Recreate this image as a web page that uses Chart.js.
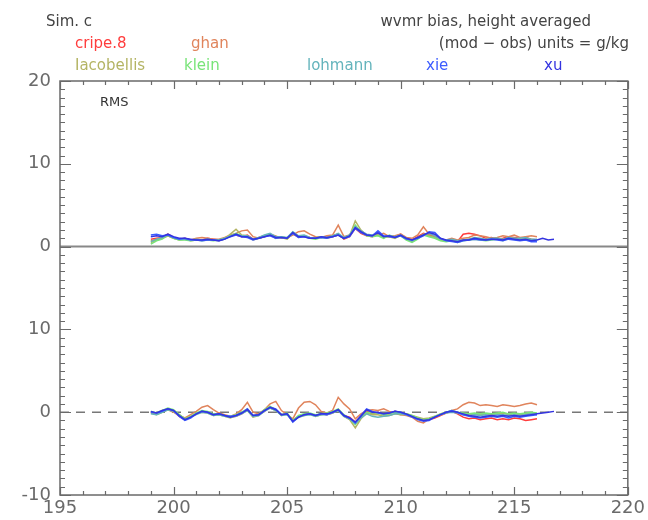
<!DOCTYPE html>
<html>
<head>
<meta charset="utf-8">
<script src="https://cdn.jsdelivr.net/npm/chart.js@4"></script>
<style>
  html, body { margin: 0; padding: 0; background: #fff; }
  #wrap { position: relative; width: 648px; height: 520px; font-family: "DejaVu Sans", sans-serif; }
  #wrap canvas { position: absolute; left: 0; top: 0; }
  .lbl { position: absolute; font-size: 15px; line-height: 18px; white-space: nowrap; color: #444; }
</style>
</head>
<body>
<div id="wrap">
  <canvas id="chart" width="648" height="520"></canvas>
  <div class="lbl" style="left:46px; top:12px;">Sim. c</div>
  <div class="lbl" style="right:57px; top:12px;">wvmr bias, height averaged</div>
  <div class="lbl" style="right:19px; top:34px;">(mod &minus; obs) units = g/kg</div>
  <div id="legend"></div>
</div>
<script>
// time axis (day of year), 6-hourly
const days = [199, 199.25, 199.5, 199.75, 200, 200.25, 200.5, 200.75, 201, 201.25,
  201.5, 201.75, 202, 202.25, 202.5, 202.75, 203, 203.25, 203.5, 203.75,
  204, 204.25, 204.5, 204.75, 205, 205.25, 205.5, 205.75, 206, 206.25,
  206.5, 206.75, 207, 207.25, 207.5, 207.75, 208, 208.25, 208.5, 208.75,
  209, 209.25, 209.5, 209.75, 210, 210.25, 210.5, 210.75, 211, 211.25,
  211.5, 211.75, 212, 212.25, 212.5, 212.75, 213, 213.25, 213.5, 213.75,
  214, 214.25, 214.5, 214.75, 215, 215.25, 215.5, 215.75, 216, 216.25,
  216.5, 216.75];

const seriesNames = ["cripe.8", "ghan", "Iacobellis", "klein", "lohmann", "xie", "xu"];
const seriesColors = ["#ff3c3c", "#e0845c", "#b4b464", "#78e478", "#64b4bc", "#3c5cff", "#3434e0"];

// RMS (upper panel)
const rmsCripe8 = [0.9,1.0,1.1,1.5,1.1,0.9,1.0,0.8,0.9,0.8, 1.0,0.9,0.8,1.0,1.3,1.4,1.2,1.4,0.9,1.1,
  1.3,1.5,1.1,1.2,1.0,1.5,1.2,1.3,1.1,1.0, 1.2,1.1,1.3,1.5,0.9,1.2,2.2,1.6,1.3,1.2,
  1.5,1.1,1.3,1.2,1.5,1.0,0.8,1.2,1.6,1.4, 1.2,0.8,0.7,0.8,0.6,1.5,1.6,1.5,1.3,1.0,
  1.1,0.9,1.0,1.2,1.1,1.0,1.1,0.9,0.8];
const rmsGhan = [0.7,0.9,1.0,1.3,1.0,0.9,0.9,0.8,1.0,1.1, 1.0,0.9,0.9,1.1,1.4,1.6,1.9,2.0,1.2,1.0,
  1.2,1.5,1.3,1.0,1.1,1.4,1.8,1.9,1.5,1.2, 1.1,1.3,1.4,2.6,1.2,1.4,2.3,1.8,1.4,1.3,
  1.4,1.6,1.2,1.3,1.5,1.1,1.0,1.4,2.4,1.5, 1.3,0.9,0.8,1.0,0.8,1.0,1.1,1.4,1.3,1.2,
  1.0,1.1,1.3,1.2,1.4,1.1,1.2,1.3,1.2];
const rmsIacobellis = [0.5,0.8,1.0,1.3,1.0,0.8,0.9,0.7,0.8,0.8, 0.9,0.8,0.7,0.9,1.5,2.1,1.4,1.3,0.8,1.0,
  1.2,1.4,1.0,1.1,0.9,1.6,1.1,1.3,1.0,1.1, 1.2,1.0,1.2,1.4,1.0,1.3,3.1,2.0,1.4,1.3,
  1.4,1.1,1.2,1.0,1.4,0.9,0.6,1.0,1.5,1.3, 1.1,0.8,0.7,0.8,0.6,0.8,0.9,1.0,0.9,0.8,
  0.9,1.0,0.8,1.1,1.0,0.9,1.0,0.8,0.8];
const rmsKlein = [0.3,0.7,0.9,1.4,1.0,0.8,0.8,0.7,0.8,0.7, 0.8,0.7,0.8,1.0,1.3,1.6,1.3,1.2,0.9,1.0,
  1.3,1.5,1.0,1.2,1.0,1.7,1.2,1.3,1.0,0.9, 1.1,1.0,1.3,1.5,1.0,1.3,2.6,1.8,1.3,1.2,
  1.3,1.0,1.4,1.1,1.3,0.8,0.5,0.9,1.4,1.2, 1.0,0.7,0.6,0.7,0.5,0.7,0.8,0.9,0.8,0.7,
  0.8,0.9,0.7,1.0,0.9,0.8,0.9,0.7,0.7];
const rmsLohmann = [0.6,0.9,1.1,1.4,1.1,0.9,0.9,0.8,0.9,0.8, 0.9,0.8,0.8,1.0,1.3,1.5,1.3,1.3,0.9,1.1,
  1.4,1.6,1.2,1.2,1.1,1.8,1.3,1.4,1.1,1.0, 1.2,1.1,1.3,1.6,1.1,1.4,2.4,1.9,1.5,1.4,
  1.6,1.2,1.3,1.2,1.4,1.0,0.7,1.1,1.4,1.6, 1.3,0.9,0.8,0.9,0.7,0.8,0.9,1.1,1.0,0.9,
  1.0,1.0,0.9,1.1,1.0,1.0,1.1,0.9,0.9];
const rmsXie = [1.4,1.5,1.3,1.4,1.1,0.9,1.0,0.8,0.8,0.7, 0.8,0.8,0.7,0.9,1.2,1.4,1.2,1.1,0.8,1.0,
  1.2,1.3,1.0,1.1,1.0,1.6,1.1,1.2,1.0,1.0, 1.1,1.0,1.2,1.4,1.0,1.2,2.2,1.7,1.4,1.3,
  1.9,1.3,1.2,1.1,1.3,0.9,0.8,1.0,1.3,1.8, 1.7,1.0,0.7,0.6,0.5,0.7,0.8,0.9,0.8,0.8,
  0.9,0.8,0.7,0.9,0.8,0.7,0.8,0.6,0.6];
const rmsXu = [1.2,1.3,1.2,1.5,1.2,1.0,1.0,0.9,0.8,0.8, 0.9,0.8,0.7,0.9,1.2,1.5,1.2,1.2,0.9,1.0,
  1.2,1.4,1.1,1.1,1.0,1.7,1.2,1.2,1.0,1.0, 1.2,1.1,1.2,1.4,1.0,1.3,2.3,1.8,1.4,1.3,
  1.7,1.2,1.3,1.1,1.4,1.0,0.8,1.1,1.4,1.7, 1.5,1.0,0.8,0.7,0.6,0.8,0.8,1.0,0.9,0.8,
  0.9,0.9,0.8,1.0,0.9,0.8,0.9,0.7,0.8,1.0,0.8,0.9];

// bias (lower panel)
const biasCripe8 = [0.0,-0.2,0.1,0.4,0.1,-0.5,-0.9,-0.6,-0.2,0.1, 0.0,-0.3,-0.1,-0.4,-0.6,-0.5,-0.2,0.3,-0.5,-0.3,
  0.1,0.6,0.3,-0.4,-0.2,-1.0,-0.5,-0.3,-0.2,-0.4, -0.2,-0.3,-0.1,0.3,-0.4,-0.6,-1.2,-0.5,0.1,-0.2,
  0.0,-0.3,-0.2,0.1,-0.1,-0.3,-0.5,-0.8,-1.0,-0.9, -0.7,-0.4,-0.1,0.1,-0.2,-0.6,-0.8,-0.7,-0.9,-0.8,
  -0.7,-0.9,-0.8,-0.9,-0.7,-0.8,-1.0,-0.9,-0.8];
const biasGhan = [0.0,-0.1,0.2,0.3,0.0,-0.4,-0.7,-0.3,0.1,0.6, 0.8,0.3,-0.1,-0.3,-0.5,-0.2,0.3,1.2,0.0,-0.2,
  0.3,1.0,1.3,0.2,-0.3,-0.8,0.5,1.2,1.3,0.9, 0.1,-0.1,0.2,1.8,1.0,0.4,-0.8,-0.2,0.2,0.3,
  0.2,0.4,0.1,-0.1,-0.3,-0.4,-0.6,-1.1,-1.3,-0.8, -0.6,-0.3,-0.1,0.2,0.4,0.9,1.2,1.1,0.8,0.9,
  0.8,0.7,0.9,0.8,0.7,0.8,1.0,1.1,0.9];
const biasIacobellis = [-0.1,-0.3,0.0,0.3,0.2,-0.3,-0.8,-0.5,-0.2,0.0, -0.1,-0.4,-0.3,-0.5,-0.7,-0.4,-0.1,0.2,-0.6,-0.4,
  0.2,0.5,0.2,-0.3,-0.2,-1.1,-0.6,-0.4,-0.2,-0.5, -0.3,-0.2,0.0,0.2,-0.5,-0.9,-1.9,-0.8,-0.1,-0.3,
  -0.3,-0.5,-0.4,-0.2,-0.3,-0.2,-0.4,-0.6,-0.8,-0.7, -0.5,-0.2,0.0,0.1,0.0,-0.2,-0.3,-0.2,-0.3,-0.2,
  -0.3,-0.2,-0.1,-0.3,-0.2,-0.3,-0.2,-0.1,-0.2];
const biasKlein = [0.1,-0.1,0.2,0.5,0.3,-0.3,-0.8,-0.5,-0.1,0.2, 0.1,-0.2,-0.2,-0.4,-0.5,-0.3,0.0,0.4,-0.4,-0.3,
  0.3,0.7,0.3,-0.3,-0.1,-1.0,-0.4,-0.2,-0.1,-0.3, -0.2,-0.1,0.1,0.4,-0.3,-0.8,-1.5,-0.6,0.0,-0.1,
  -0.1,-0.3,-0.2,0.0,-0.1,-0.2,-0.4,-0.7,-0.9,-0.8, -0.5,-0.2,0.0,0.2,0.0,-0.1,-0.2,-0.1,-0.2,-0.1,
  -0.2,-0.1,0.0,-0.2,-0.1,-0.2,-0.1,0.0,-0.1];
const biasLohmann = [-0.2,-0.3,0.0,0.3,0.1,-0.4,-0.9,-0.6,-0.3,0.0, -0.1,-0.4,-0.3,-0.5,-0.6,-0.5,-0.2,0.2,-0.5,-0.4,
  0.1,0.5,0.2,-0.4,-0.3,-1.1,-0.6,-0.4,-0.3,-0.5, -0.3,-0.3,-0.1,0.2,-0.5,-0.8,-1.4,-0.7,-0.2,-0.5,
  -0.6,-0.5,-0.4,-0.2,-0.2,-0.3,-0.5,-0.8,-1.0,-0.9, -0.6,-0.3,-0.1,0.0,-0.1,-0.3,-0.4,-0.3,-0.4,-0.3,
  -0.4,-0.3,-0.3,-0.4,-0.3,-0.4,-0.3,-0.2,-0.3];
const biasXie = [0.0,-0.1,0.1,0.4,0.2,-0.5,-1.0,-0.7,-0.2,0.1, 0.0,-0.3,-0.2,-0.4,-0.5,-0.4,-0.1,0.4,-0.4,-0.3,
  0.2,0.6,0.4,-0.3,-0.2,-1.2,-0.6,-0.3,-0.2,-0.4, -0.2,-0.3,0.0,0.3,-0.4,-0.7,-1.3,-0.4,0.4,0.1,
  -0.1,-0.2,-0.1,0.1,0.0,-0.3,-0.6,-0.9,-1.1,-1.0, -0.6,-0.3,0.0,0.2,0.0,-0.3,-0.5,-0.6,-0.7,-0.6,
  -0.5,-0.6,-0.5,-0.7,-0.5,-0.6,-0.5,-0.4,-0.3];
const biasXu = [0.1,-0.1,0.2,0.4,0.2,-0.4,-0.9,-0.6,-0.2,0.1, 0.0,-0.3,-0.2,-0.4,-0.6,-0.4,-0.1,0.3,-0.4,-0.3,
  0.2,0.6,0.3,-0.3,-0.2,-1.1,-0.6,-0.3,-0.2,-0.4, -0.2,-0.2,0.0,0.3,-0.4,-0.7,-1.2,-0.5,0.3,0.0,
  0.0,-0.2,-0.1,0.1,0.0,-0.2,-0.5,-0.8,-1.0,-0.9, -0.6,-0.3,0.0,0.1,0.0,-0.2,-0.4,-0.5,-0.6,-0.5,
  -0.4,-0.5,-0.4,-0.5,-0.4,-0.5,-0.4,-0.3,-0.2,-0.1,0.0,0.1];

const rmsSeries = [rmsCripe8, rmsGhan, rmsIacobellis, rmsKlein, rmsLohmann, rmsXie, rmsXu];
const biasSeries = [biasCripe8, biasGhan, biasIacobellis, biasKlein, biasLohmann, biasXie, biasXu];

// the upper (RMS) panel sits on top of the bias panel: its 0 is the bias axis' 20
const RMS_OFFSET = 20;
const xTicks = [195, 200, 205, 210, 215, 220];

const legendPos = [[75, 34], [191, 34], [75, 56], [184, 56], [307, 56], [426, 56], [544, 56]];
const legend = document.getElementById("legend");
seriesNames.forEach((n, i) => {
  const d = document.createElement("div");
  d.className = "lbl";
  d.style.left = legendPos[i][0] + "px";
  d.style.top = legendPos[i][1] + "px";
  d.style.color = seriesColors[i];
  d.textContent = n;
  legend.appendChild(d);
});

// chart.js paints dataset 0 last, so push xu first to keep the blues on top
const datasets = [];
for (let i = seriesNames.length - 1; i >= 0; i--) {
  datasets.push({
    label: seriesNames[i] + " rms",
    data: rmsSeries[i].map((v, k) => ({ x: days[k], y: v + RMS_OFFSET })),
    borderColor: seriesColors[i], borderWidth: 1.5, pointRadius: 0, tension: 0
  });
  datasets.push({
    label: seriesNames[i] + " bias",
    data: biasSeries[i].map((v, k) => ({ x: days[k], y: v })),
    borderColor: seriesColors[i], borderWidth: 1.5, pointRadius: 0, tension: 0
  });
}

const frameColor = "#6a6a6a";

const framePlugin = {
  id: "frame",
  beforeDatasetsDraw(chart) {
    const { ctx, chartArea: a, scales } = chart;
    const y = scales.y;
    ctx.save();
    // panel divider
    ctx.strokeStyle = "#888";
    ctx.lineWidth = 2;
    ctx.beginPath();
    ctx.moveTo(a.left, y.getPixelForValue(RMS_OFFSET));
    ctx.lineTo(a.right, y.getPixelForValue(RMS_OFFSET));
    ctx.stroke();
    // dashed zero of bias panel
    ctx.strokeStyle = "#777";
    ctx.lineWidth = 1.5;
    ctx.setLineDash([9, 7]);
    ctx.beginPath();
    ctx.moveTo(a.left, y.getPixelForValue(0));
    ctx.lineTo(a.right, y.getPixelForValue(0));
    ctx.stroke();
    ctx.restore();
  },
  afterDraw(chart) {
    const { ctx, chartArea: a, scales } = chart;
    const x = scales.x, y = scales.y;
    ctx.save();
    ctx.strokeStyle = frameColor;
    ctx.lineWidth = 1.5;
    ctx.strokeRect(a.left, a.top, a.right - a.left, a.bottom - a.top);
    ctx.lineWidth = 1.2;
    ctx.beginPath();
    for (let v = y.min; v <= y.max; v++) {
      const p = Math.round(y.getPixelForValue(v)) + 0.5;
      const len = v % 10 === 0 ? 11 : 5;
      ctx.moveTo(a.left, p); ctx.lineTo(a.left + len, p);
      ctx.moveTo(a.right, p); ctx.lineTo(a.right - len, p);
    }
    for (let v = x.min; v <= x.max; v++) {
      const p = Math.round(x.getPixelForValue(v)) + 0.5;
      const len = v % 5 === 0 ? 8 : 4;
      ctx.moveTo(p, a.bottom); ctx.lineTo(p, a.bottom - len);
      ctx.moveTo(p, a.top); ctx.lineTo(p, a.top + len);
    }
    ctx.stroke();
    // panel title
    ctx.fillStyle = "#333";
    ctx.font = "13px 'DejaVu Sans'";
    ctx.textBaseline = "middle";
    ctx.fillText("RMS", a.left + 40, a.top + 22);
    ctx.restore();
  }
};

new Chart(document.getElementById("chart"), {
  type: "line",
  data: { datasets },
  options: {
    responsive: false,
    animation: false,
    layout: { padding: { top: 81, right: 17, left: 0, bottom: 0 } },
    plugins: { legend: { display: false }, tooltip: { enabled: false } },
    scales: {
      x: {
        type: "linear", min: 195, max: 220,
        afterBuildTicks: (s) => { s.ticks = xTicks.map(v => ({ value: v })); },
        afterFit: (s) => { s.height = 25; },
        grid: { display: false, drawTicks: false },
        border: { display: false },
        ticks: { color: "#6a6a6a", padding: 3, font: { family: "DejaVu Sans", size: 18 } }
      },
      y: {
        type: "linear", min: -10, max: 40,
        afterFit: (s) => { s.width = 60; },
        grid: { display: false, drawTicks: false },
        border: { display: false },
        ticks: {
          stepSize: 10, color: "#6a6a6a", padding: 9,
          font: { family: "DejaVu Sans", size: 18 },
          callback: (v) => (v >= RMS_OFFSET ? v - RMS_OFFSET : v)
        }
      }
    }
  },
  plugins: [framePlugin]
});
</script>
</body>
</html>
